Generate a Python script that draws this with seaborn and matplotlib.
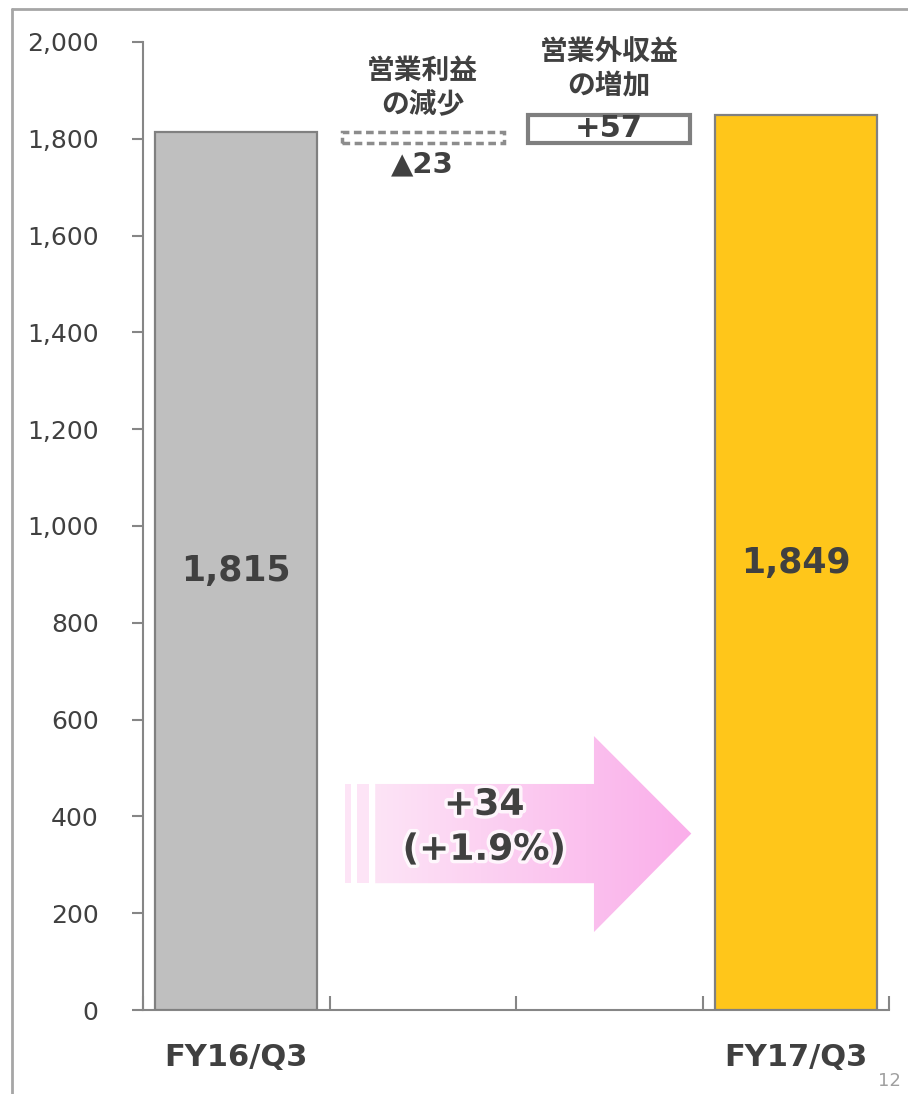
import numpy as np
import pandas as pd
import matplotlib
matplotlib.use("Agg")
import matplotlib.pyplot as plt
import matplotlib.patheffects as pe
from matplotlib.patches import Polygon, Rectangle
from matplotlib.lines import Line2D
from matplotlib.ticker import FixedLocator
import seaborn as sns

# データ (経常利益ブリッジ)
periods = ["FY16/Q3", "FY17/Q3"]
ordinary_income = [1815, 1849]
bridge_labels = ["営業利益\nの減少", "営業外収益\nの増加"]
bridge_values = [-23, 57]
slots = ["FY16/Q3", "op", "nonop", "FY17/Q3"]
tick_labels = ["FY16/Q3", "", "", "FY17/Q3"]
yticks = [0, 200, 400, 600, 800, 1000, 1200, 1400, 1600, 1800, 2000]

bar_colors = ["#bfbfbf", "#ffc61a"]
text_color = "#404040"
axis_color = "#868686"

sns.set_style("white")
plt.rcParams["font.family"] = ["DejaVu Sans", "Noto Sans CJK JP"]
jp_font = ["Noto Sans CJK JP", "DejaVu Sans"]

fig = plt.figure(figsize=(9.08, 10.94), dpi=100)
ax = fig.add_axes([143 / 908, 1 - 1010 / 1094, (889 - 143) / 908, (1010 - 42) / 1094])

df = pd.DataFrame({"period": periods, "value": ordinary_income})
sns.barplot(data=df, x="period", y="value", order=slots, hue="period",
            palette=bar_colors, saturation=1, width=0.87, edgecolor="#808080",
            linewidth=1.6, legend=False, ax=ax, zorder=3)

# ブリッジ部分
base = ordinary_income[0] + bridge_values[0]
ax.bar(1, -bridge_values[0], bottom=base, width=0.87, fill=False,
       linestyle=(0, (2.2, 1.3)), edgecolor="#8c8c8c", linewidth=2.5, zorder=3)
ax.bar(2, bridge_values[1], bottom=base, width=0.87, fill=False,
       edgecolor="#7f7f7f", linewidth=3, zorder=3)

# バーのラベル
for i, v in zip([0, 3], ordinary_income):
    ax.text(i, v / 2, f"{v:,}", ha="center", va="center", fontsize=25,
            fontweight="bold", color=text_color, zorder=5)

ax.text(1, 1905, bridge_labels[0], ha="center", va="center", fontsize=20,
        fontweight="bold", color=text_color, family=jp_font, linespacing=1.27)
ax.text(2, 1944, bridge_labels[1], ha="center", va="center", fontsize=20,
        fontweight="bold", color=text_color, family=jp_font, linespacing=1.27)
ax.text(1, 1746, f"▲{abs(bridge_values[0])}", ha="center", va="center",
        fontsize=21, fontweight="bold", color=text_color)
ax.text(2, base + bridge_values[1] - 27, f"+{bridge_values[1]}", ha="center",
        va="center", fontsize=22, fontweight="bold", color=text_color, zorder=5)

# グラデーション矢印
diff = ordinary_income[1] - ordinary_income[0]
pct = diff / ordinary_income[0] * 100
xb, xh, xt = 0.745, 1.918, 2.44
yb0, yb1, yh0, yh1 = 262, 467, 161, 566
yc = (yb0 + yb1) / 2
arrow = Polygon([(xb, yb0), (xh, yb0), (xh, yh0), (xt, yc), (xh, yh1),
                 (xh, yb1), (xb, yb1)], closed=True, facecolor="none",
                edgecolor="none", transform=ax.transData)
ax.add_patch(arrow)
c_left = np.array([253, 228, 246]) / 255
c_right = np.array([250, 174, 234]) / 255
t = np.linspace(0, 1, 256)
grad = (c_left[None, :] * (1 - t[:, None]) + c_right[None, :] * t[:, None])[None, :, :]
img = ax.imshow(grad, extent=[xb, xt, yh0, yh1], aspect="auto", origin="lower",
                zorder=2, interpolation="bilinear")
img.set_clip_path(arrow)
for s0, s1 in [(0.584, 0.616), (0.648, 0.713)]:
    ax.add_patch(Rectangle((s0, yb0), s1 - s0, yb1 - yb0, facecolor=c_left,
                           edgecolor="none", zorder=2))

glow = [pe.withStroke(linewidth=5, foreground="white", alpha=0.8)]
ax.text(1.33, 424, f"+{diff}", ha="center", va="center", fontsize=26,
        fontweight="bold", color=text_color, path_effects=glow, zorder=6)
ax.text(1.33, 331, f"(+{pct:.1f}%)", ha="center", va="center", fontsize=26,
        fontweight="bold", color=text_color, path_effects=glow, zorder=6)

# 軸
ax.set_xlim(-0.5, 3.5)
ax.set_ylim(0, 2000)
ax.set_xlabel("")
ax.set_ylabel("")
sns.despine(ax=ax, top=True, right=True)
for sp in ["left", "bottom"]:
    ax.spines[sp].set_color(axis_color)
    ax.spines[sp].set_linewidth(1.5)

ax.set_yticks(yticks)
ax.set_yticklabels([f"{v:,}" for v in yticks])
ax.tick_params(axis="y", direction="out", length=8, width=1.5, color=axis_color,
               labelsize=18, labelcolor=text_color, pad=24, left=True)
ax.set_xticks(range(len(slots)))
ax.set_xticklabels(tick_labels, fontsize=22, fontweight="bold", color=text_color)
ax.xaxis.set_minor_locator(FixedLocator([-0.5, 0.5, 1.5, 2.5, 3.5]))
ax.tick_params(axis="x", which="major", length=0, pad=24)
ax.tick_params(axis="x", which="minor", direction="in", length=10, width=1.5,
               color=axis_color, bottom=True)

# スライド枠
fx = 12 / 908
fy = 1 - 9 / 1094
fig.add_artist(Line2D([fx, fx], [0, fy], transform=fig.transFigure,
                      color="#a6a6a6", lw=2))
fig.add_artist(Line2D([fx, 1], [fy, fy], transform=fig.transFigure,
                      color="#a6a6a6", lw=2))
fig.text(878 / 908, 1 - 1072 / 1094, "12", ha="left", va="top", fontsize=13,
         color="#a0a0a0")

fig.savefig("out.png", dpi=100)
